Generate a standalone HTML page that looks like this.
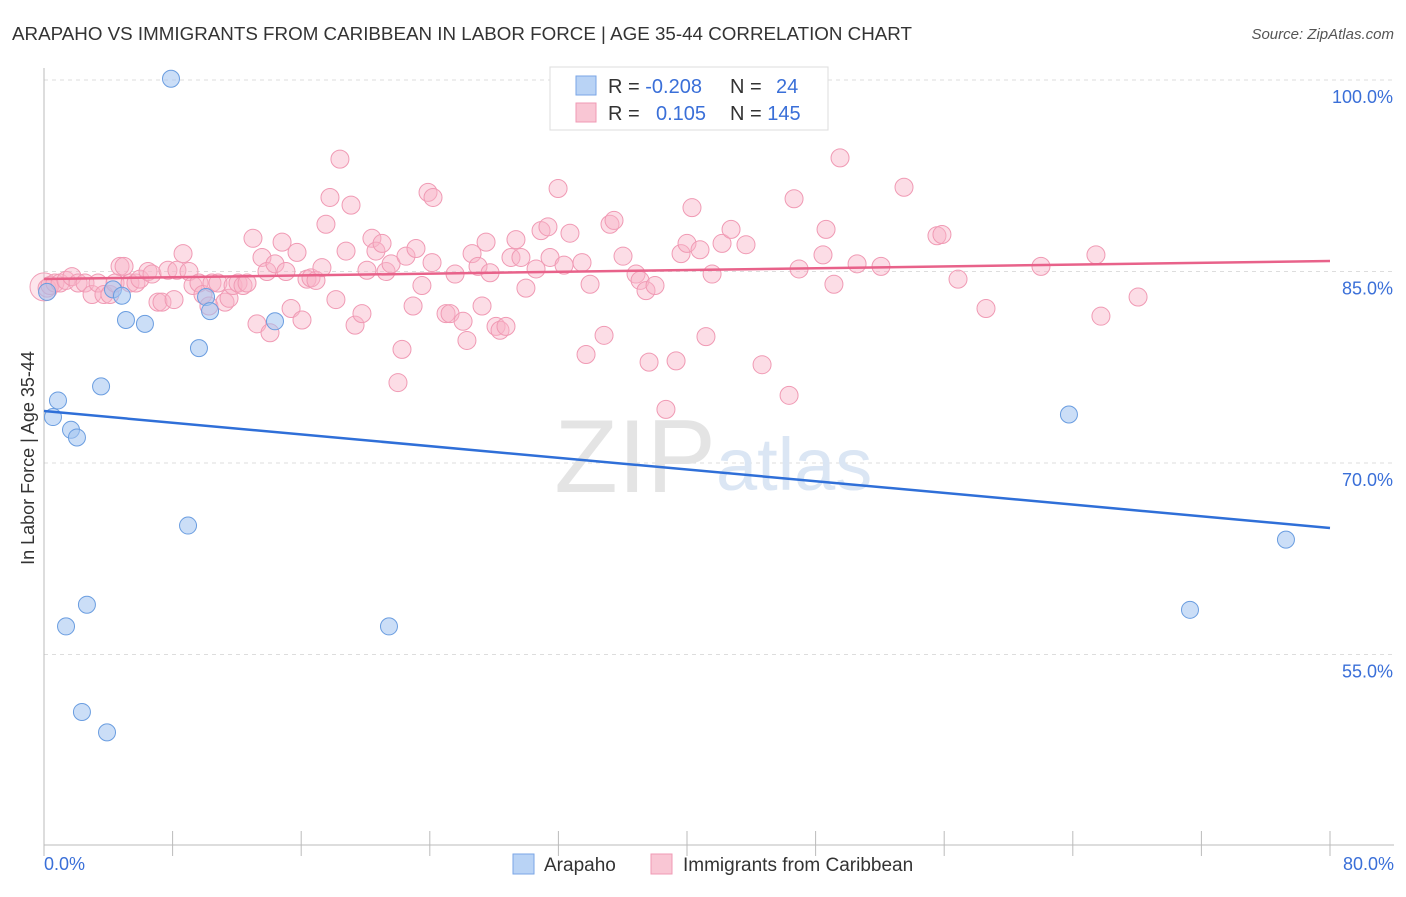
<!DOCTYPE html>
<html><head><meta charset="utf-8"><style>
body{margin:0;background:#fff;font-family:"Liberation Sans",sans-serif;}
svg text{font-family:"Liberation Sans",sans-serif;}
</style></head><body>
<svg id="chart" width="1406" height="892" viewBox="0 0 1406 892" xmlns="http://www.w3.org/2000/svg">
<text x="12" y="40" font-size="18" fill="#333" textLength="900" lengthAdjust="spacingAndGlyphs">ARAPAHO VS IMMIGRANTS FROM CARIBBEAN IN LABOR FORCE | AGE 35-44 CORRELATION CHART</text>
<text x="1394" y="39" font-size="15" fill="#555" font-style="italic" text-anchor="end">Source: ZipAtlas.com</text>
<g id="grid"></g>
<g id="axes"></g>
<text x="716" y="492" font-size="104" fill="#e4e4e4" font-family="Liberation Serif" text-anchor="end">ZIP</text>
<text x="716" y="490" font-size="74" fill="#dbe6f4">atlas</text>
<g id="pinkPts"></g>
<g id="bluePts"></g>
<g id="lines"></g>
<text transform="translate(34,458) rotate(-90)" font-size="18" fill="#333" text-anchor="middle">In Labor Force | Age 35-44</text>
<g>
<rect x="550" y="67" width="278" height="63" fill="#fff" stroke="#ddd"/>
<rect x="576" y="76" width="20" height="19" fill="#b9d3f5" stroke="#7aa6e6"/>
<rect x="576" y="103" width="20" height="19" fill="#f9c6d4" stroke="#f09ab4"/>
<text x="608" y="93" font-size="20" fill="#333">R = <tspan fill="#3a6fd8">-0.208</tspan></text>
<text x="730" y="93" font-size="20" fill="#333">N = <tspan fill="#3a6fd8" x="776">24</tspan></text>
<text x="608" y="120" font-size="20" fill="#333">R = <tspan fill="#3a6fd8" x="656">0.105</tspan></text>
<text x="730" y="120" font-size="20" fill="#333">N = <tspan fill="#3a6fd8">145</tspan></text>
</g>
<g>
<rect x="513" y="854" width="21" height="20" fill="#b9d3f5" stroke="#7aa6e6"/>
<text x="544" y="871" font-size="19" fill="#333">Arapaho</text>
<rect x="651" y="854" width="21" height="20" fill="#f9c6d4" stroke="#f09ab4"/>
<text x="683" y="871" font-size="19" fill="#333">Immigrants from Caribbean</text>
</g>
</svg>
<script>
const yTicks=[100,85,70,55];
const yTickLabels=["100.0%","85.0%","70.0%","55.0%"];
const xTickLabels=["0.0%","80.0%"];
const pinkX=[0.19,0.37,0.68,1.0,1.37,1.74,2.12,2.55,2.99,3.36,3.73,4.1,4.42,4.73,4.98,5.35,5.72,5.97,6.47,6.72,7.09,7.34,7.71,8.09,8.27,8.65,9.02,9.27,9.64,9.89,10.26,10.45,10.82,11.26,11.51,11.76,12.07,12.38,12.63,13.0,13.25,13.56,13.87,14.06,14.37,14.81,15.05,15.37,15.74,16.05,16.36,16.61,16.92,17.29,17.54,17.79,18.16,18.41,18.79,19.1,19.35,19.78,20.09,20.4,20.65,21.03,21.28,21.59,22.02,22.27,22.52,22.96,23.14,23.51,23.89,24.14,24.2,25.01,25.26,25.57,26.07,26.31,26.63,27.0,27.25,27.5,27.75,28.12,28.37,28.74,29.05,29.36,29.67,29.98,30.61,30.92,31.35,31.48,31.98,32.35,32.72,33.47,33.72,33.97,34.84,35.21,35.46,36.02,36.83,37.08,37.45,37.64,38.01,38.69,39.32,39.63,40.0,40.31,40.81,41.18,41.56,42.18,42.74,43.67,44.67,46.35,46.66,46.97,48.46,48.65,49.14,49.52,50.58,52.07,53.5,55.55,55.86,56.86,58.6,62.02,65.44,65.75,68.06];
const pinkY=[83.7,83.9,84.1,84.1,84.3,84.6,84.1,84.1,83.2,84.1,83.2,83.2,84.1,85.4,85.4,84.1,84.1,84.4,85.0,84.8,82.6,82.6,85.1,82.8,85.1,86.4,85.0,83.9,84.1,83.2,82.3,84.1,84.1,82.6,82.9,83.9,84.1,83.9,84.1,87.6,80.9,86.1,85.0,80.2,85.6,87.3,85.0,82.1,86.5,81.2,84.4,84.5,84.3,85.3,88.7,90.8,82.8,93.8,86.6,90.2,80.8,81.7,85.1,87.6,86.6,87.2,85.0,85.6,76.3,78.9,86.2,82.3,86.8,83.9,91.2,85.7,90.8,81.7,81.7,84.8,81.1,79.6,86.4,85.4,82.3,87.3,84.9,80.7,80.4,80.7,86.1,87.5,86.1,83.7,85.2,88.2,88.5,86.1,91.5,85.5,88.0,85.7,78.5,84.0,80.0,88.7,89.0,86.2,84.8,84.3,83.5,77.9,83.9,74.2,78.0,86.4,87.2,90.0,86.7,79.9,84.8,87.2,88.3,87.1,77.7,75.3,90.7,85.2,86.3,88.3,84.0,93.9,85.6,85.4,91.6,87.8,87.9,84.4,82.1,85.4,86.3,81.5,83.0];
const blueX=[0.19,0.56,0.87,1.68,2.05,1.37,2.67,2.36,3.92,3.55,4.29,4.85,5.1,6.28,7.9,8.96,9.64,10.08,10.33,14.37,21.46,63.76,71.29,77.26];
const blueY=[83.4,73.6,74.9,72.6,72.0,57.2,58.9,50.5,48.9,76.0,83.6,83.1,81.2,80.9,100.1,65.1,79.0,83.0,81.9,81.1,57.2,73.8,58.5,64.0];
const pinkTrend=[84.41,85.82];
const blueTrend=[74.07,64.91];
const NS="http://www.w3.org/2000/svg";
const X=v=>44+v/80*1286;
const Y=v=>80+(100-v)/15*191.5;
function mk(tag,attrs,parent){const e=document.createElementNS(NS,tag);for(const k in attrs)e.setAttribute(k,attrs[k]);document.getElementById(parent).appendChild(e);return e;}
yTicks.forEach((t,i)=>{
 const l=mk('line',{x1:44,x2:1394,y1:Y(t),y2:Y(t),stroke:'#ddd','stroke-dasharray':'4,4'},'grid');
 
 
 const tx=mk('text',{x:1393,y:Y(t)+23,'font-size':18,fill:'#3a6fd8','text-anchor':'end'},'axes');
 tx.textContent=yTickLabels[i];
 
 
});
let a=mk('line',{x1:44,x2:44,y1:68,y2:845,stroke:'#bbb'},'axes');


a=mk('line',{x1:44,x2:1394,y1:845,y2:845,stroke:'#bbb'},'axes');


for(let i=0;i<=10;i++){
 const t=mk('line',{x1:X(i*8),x2:X(i*8),y1:831,y2:856,stroke:'#bbb'},'axes');
 
 
}
[[0,'start',44],[80,'end',1394]].forEach((d,i)=>{
 const tx=mk('text',{x:d[2],y:870,'font-size':18,fill:'#3a6fd8','text-anchor':d[1]},'axes');
 tx.textContent=xTickLabels[i];
 
 
});
const big=mk('circle',{cx:X(0),cy:Y(83.8),r:14,fill:'rgba(248,180,200,0.35)',stroke:'#f0a0b8'},'pinkPts');


pinkX.forEach((x,i)=>{
 const c=mk('circle',{cx:X(x),cy:Y(pinkY[i]),r:9,fill:'rgba(248,180,200,0.45)',stroke:'#f09ab4','stroke-width':1},'pinkPts');
 
 
});
blueX.forEach((x,i)=>{
 const c=mk('circle',{cx:X(x),cy:Y(blueY[i]),r:8.5,fill:'rgba(160,195,240,0.55)',stroke:'#6a9de0','stroke-width':1},'bluePts');
 
 
});
let tl=mk('line',{x1:X(0),x2:X(80),y1:Y(pinkTrend[0]),y2:Y(pinkTrend[1]),stroke:'#e8628a','stroke-width':2.5},'lines');


tl=mk('line',{x1:X(0),x2:X(80),y1:Y(blueTrend[0]),y2:Y(blueTrend[1]),stroke:'#2f6fd8','stroke-width':2.5},'lines');


</script>
</body></html>
